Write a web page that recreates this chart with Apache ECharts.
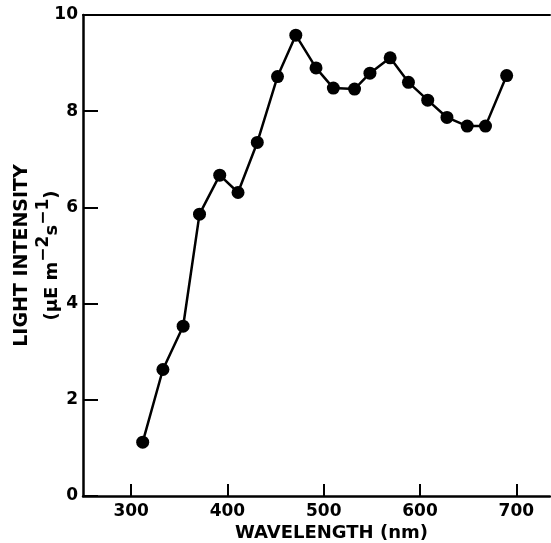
<!DOCTYPE html>
<html>
<head>
<meta charset="utf-8">
<script src="https://cdn.jsdelivr.net/npm/echarts@6/dist/echarts.min.js"></script>
<style>
  html, body { margin: 0; padding: 0; background: #fff; }
  #chart { width: 551px; height: 543px; }
</style>
</head>
<body>
<div id="chart"></div>
<script>
// 数据
var wavelength = [312, 333, 354, 371, 392, 411, 431, 452, 471, 492,
                  510, 532, 548, 569, 588, 608, 628, 649, 668, 690]
var intensity = [1.12, 2.63, 3.53, 5.86, 6.67, 6.31, 7.35, 8.72, 9.58, 8.90,
                 8.48, 8.46, 8.79, 9.11, 8.60, 8.23, 7.87, 7.69, 7.69, 8.74]
var xTicks = [300, 400, 500, 600, 700]

;(function () {
  var myChart = echarts.init(document.getElementById('chart'))
  var font = 'DejaVu Sans'
  var points = wavelength.map(function (w, i) { return [w, intensity[i]] })

  var option = {
    animation: false,
    grid: { left: 83, top: 15, right: 1, bottom: 47, containLabel: false, outerBoundsMode: 'none' },
    xAxis: [
      {
        type: 'value',
        min: 250,
        max: 735,
        name: 'WAVELENGTH (nm)',
        nameLocation: 'middle',
        nameGap: 28,
        nameMoveOverlap: false,
        nameTextStyle: {
          color: '#000', fontFamily: font, fontWeight: 'bold', fontSize: 18,
          padding: [0, 0, 0, 30],
        },
        axisLine: { show: true, lineStyle: { color: '#000', width: 2.5 } },
        axisTick: {
          show: true, inside: true, length: 12, customValues: xTicks,
          lineStyle: { color: '#000', width: 2 },
        },
        axisLabel: {
          show: true, customValues: xTicks, margin: 7,
          color: '#000', fontFamily: font, fontWeight: 'bold', fontSize: 17,
        },
        splitLine: { show: false },
      },
      {
        // 上边框
        type: 'value',
        position: 'top',
        min: 250,
        max: 735,
        axisLine: { show: true, lineStyle: { color: '#000', width: 2 } },
        axisTick: { show: false },
        axisLabel: { show: false },
        splitLine: { show: false },
      },
    ],
    yAxis: {
      type: 'value',
      min: 0,
      max: 10,
      interval: 2,
      name: '{a|LIGHT INTENSITY}\n{b|(μE m}{sup|−2}{b|s}{sup|−1}{b|)}',
      nameLocation: 'middle',
      nameRotate: 90,
      nameGap: 22,
      nameMoveOverlap: false,
      nameTextStyle: {
        color: '#000',
        rich: {
          a: { fontFamily: font, fontWeight: 'bold', fontSize: 19, lineHeight: 26, color: '#000' },
          b: { fontFamily: font, fontWeight: 'bold', fontSize: 18, lineHeight: 26, verticalAlign: 'bottom', color: '#000' },
          sup: { fontFamily: font, fontWeight: 'bold', fontSize: 17, lineHeight: 26, verticalAlign: 'top', color: '#000' },
        },
      },
      axisLine: { show: true, lineStyle: { color: '#000', width: 2.5 } },
      axisTick: { show: true, inside: true, length: 15, lineStyle: { color: '#000', width: 2 } },
      axisLabel: {
        show: true, margin: 5,
        color: '#000', fontFamily: font, fontWeight: 'bold', fontSize: 17,
      },
      splitLine: { show: false },
    },
    series: [
      {
        type: 'line',
        data: points,
        symbol: 'circle',
        symbolSize: 13,
        itemStyle: { color: '#000' },
        lineStyle: { color: '#000', width: 2.5 },
      },
    ],
  }
  myChart.setOption(option)
})()
</script>
</body>
</html>
